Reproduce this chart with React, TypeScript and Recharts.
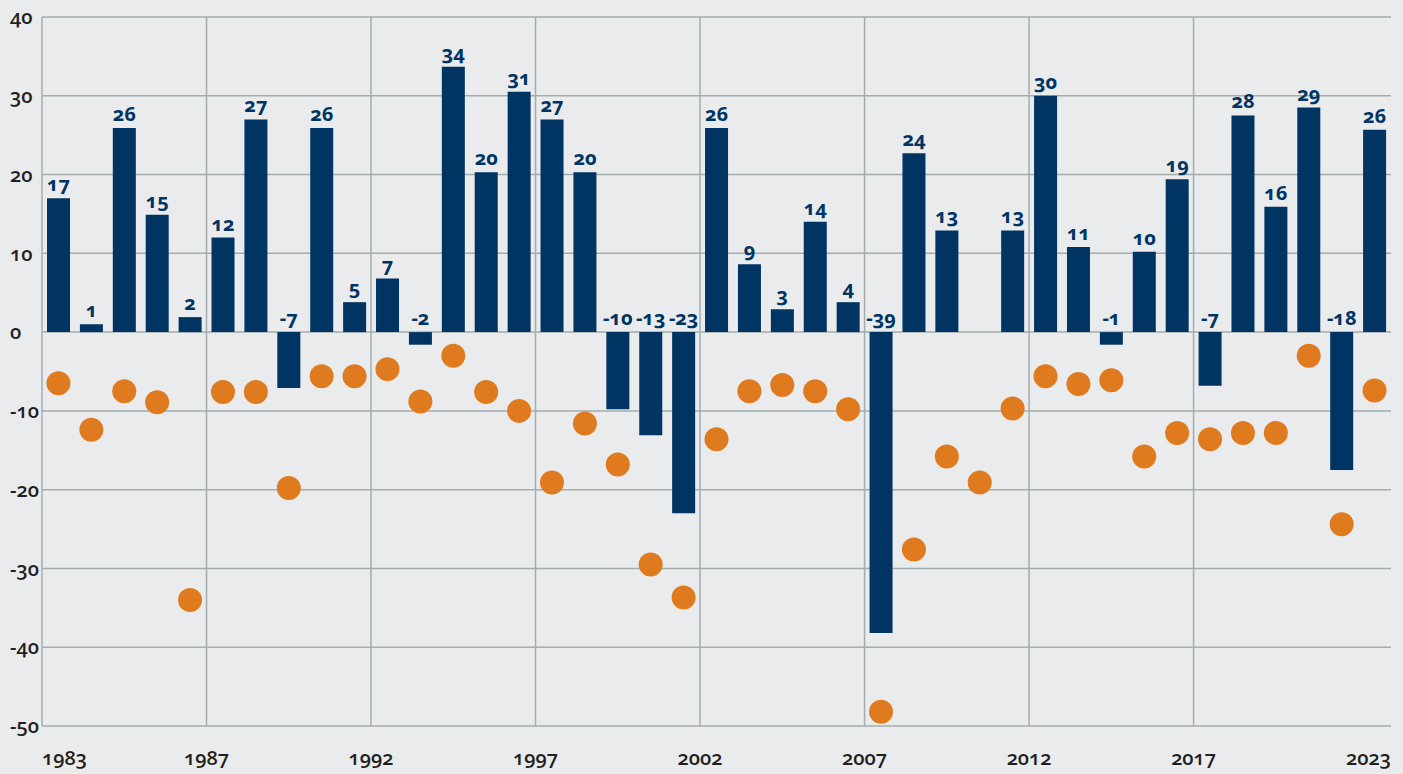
import React from 'react';
import {
  ComposedChart,
  Bar,
  Line,
  XAxis,
  YAxis,
  CartesianGrid,
  ReferenceLine,
  LabelList,
} from 'recharts';

const years = [
  '1983', '1984', '1985', '1986', '1987', '1988', '1989', '1990', '1991', '1992',
  '1993', '1994', '1995', '1996', '1997', '1998', '1999', '2000', '2001', '2002',
  '2003', '2004', '2005', '2006', '2007', '2008', '2009', '2010', '2011', '2012',
  '2013', '2014', '2015', '2016', '2017', '2018', '2019', '2020', '2021', '2022',
  '2023',
];

const annualReturns = [
  17.0, 1.0, 25.9, 14.9, 1.9, 12.0, 27.0, -7.1, 25.9, 3.8,
  6.8, -1.6, 33.7, 20.3, 30.5, 27.0, 20.3, -9.8, -13.1, -23.0,
  25.9, 8.6, 2.9, 14.0, 3.8, -38.2, 22.7, 12.9, 0, 12.9,
  30.0, 10.8, -1.6, 10.2, 19.4, -6.8, 27.5, 15.9, 28.5, -17.5,
  25.7,
];

const returnLabels = [
  17, 1, 26, 15, 2, 12, 27, -7, 26, 5,
  7, -2, 34, 20, 31, 27, 20, -10, -13, -23,
  26, 9, 3, 14, 4, -39, 24, 13, 0, 13,
  30, 11, -1, 10, 19, -7, 28, 16, 29, -18,
  26,
];

const intraYearDeclines = [
  -6.5, -12.4, -7.5, -8.9, -34.0, -7.6, -7.6, -19.8, -5.6, -5.6,
  -4.7, -8.8, -3.0, -7.6, -10.0, -19.1, -11.6, -16.8, -29.5, -33.7,
  -13.6, -7.5, -6.7, -7.5, -9.8, -48.2, -27.6, -15.8, -19.1, -9.7,
  -5.6, -6.6, -6.1, -15.8, -12.8, -13.6, -12.8, -12.8, -3.0, -24.4,
  -7.4,
];

const yTicks = [-50, -40, -30, -20, -10, 0, 10, 20, 30, 40];
const xTickPositions = [1982.5, 1987.5, 1992.5, 1997.5, 2002.5, 2007.5, 2012.5, 2017.5, 2023.5];
const xTickLabels = ['1983', '1987', '1992', '1997', '2002', '2007', '2012', '2017', '2023'];
const xGridPositions = [1987.5, 1992.5, 1997.5, 2002.5, 2007.5, 2012.5, 2017.5];

const data = years.map((y, i) => ({
  year: y,
  yearNum: Number(y),
  ret: annualReturns[i],
  label: returnLabels[i],
  decline: intraYearDeclines[i],
}));

const NAVY = '#003462';
const ORANGE = '#e07a1f';
const GRID = '#a3adac';
const BG = '#e9ebed';
const TEXT = '#231f20';
const FONT = "'Open Sans', 'Noto Sans', sans-serif";

const YTick = (props: any) => {
  const { y, payload } = props;
  return (
    <text
      x={10}
      y={y}
      dy="0.36em"
      textAnchor="start"
      fill={TEXT}
      fontSize={20}
      fontWeight={600}
      fontFamily={FONT}
    >
      {payload.value}
    </text>
  );
};

const XTick = (props: any) => {
  const { x, y, index } = props;
  const last = xTickLabels.length - 1;
  const anchor = index === 0 ? 'start' : index === last ? 'end' : 'middle';
  return (
    <text
      x={x}
      y={y}
      dy={31}
      textAnchor={anchor}
      fill={TEXT}
      fontSize={20}
      fontWeight={600}
      fontFamily={FONT}
    >
      {xTickLabels[index]}
    </text>
  );
};

const BarLabel = (props: any) => {
  const { x, y, width, height, value } = props;
  const top = Math.min(Number(y), Number(y) + Number(height));
  return (
    <text
      x={Number(x) + Number(width) / 2}
      y={top - 7}
      textAnchor="middle"
      fill={NAVY}
      fontSize={20}
      fontWeight={700}
      fontFamily={FONT}
    >
      {value}
    </text>
  );
};

export default function App() {
  return (
    <div
      style={{
        position: 'absolute',
        left: 0,
        top: 0,
        width: 1403,
        height: 774,
        background: BG,
        fontFamily: FONT,
        fontVariantNumeric: 'oldstyle-nums',
      }}
    >
      <ComposedChart
        width={1403}
        height={774}
        data={data}
        margin={{ top: 17, right: 12, bottom: 0, left: 0 }}
      >
        <CartesianGrid vertical={false} stroke={GRID} strokeWidth={1.5} />
        <XAxis
          xAxisId="num"
          dataKey="yearNum"
          type="number"
          domain={[1982.5, 2023.5]}
          allowDataOverflow
          ticks={xTickPositions}
          interval={0}
          height={48}
          axisLine={false}
          tickLine={false}
          tick={<XTick />}
        />
        <XAxis xAxisId="cat" dataKey="year" type="category" hide height={0} />
        <YAxis
          domain={[-50, 40]}
          ticks={yTicks}
          interval={0}
          width={42}
          axisLine={{ stroke: GRID, strokeWidth: 1.5 }}
          tickLine={false}
          tick={<YTick />}
        />
        {xGridPositions.map((p) => (
          <ReferenceLine key={p} xAxisId="num" x={p} stroke={GRID} strokeWidth={1.5} />
        ))}
        <Bar xAxisId="cat" dataKey="ret" fill={NAVY} barSize={23} isAnimationActive={false}>
          <LabelList dataKey="label" content={<BarLabel />} />
        </Bar>
        <Line
          xAxisId="cat"
          dataKey="decline"
          stroke="none"
          dot={{ r: 12, fill: ORANGE, stroke: 'none', strokeWidth: 0 }}
          activeDot={false}
          isAnimationActive={false}
        />
      </ComposedChart>
    </div>
  );
}
